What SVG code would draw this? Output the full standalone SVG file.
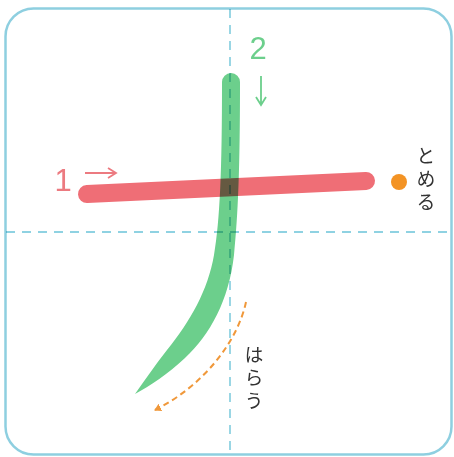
<svg xmlns="http://www.w3.org/2000/svg" width="454" height="457" viewBox="0 0 454 457">
<style>
.guide{stroke:#8fd2e2;stroke-width:1.8;stroke-dasharray:9 7;fill:none;mix-blend-mode:multiply}
.lbl{font-family:"Noto Sans CJK JP","Liberation Sans",sans-serif;font-size:19px;fill:#333;writing-mode:vertical-rl;text-orientation:upright;letter-spacing:4px}
.num{font-family:"Liberation Sans",sans-serif;font-size:31px;font-weight:300}
</style>
<defs>
<marker id="oarrow" markerWidth="8" markerHeight="8" refX="6" refY="4" orient="auto" markerUnits="userSpaceOnUse">
<path d="M0,0 L7,4 L0,8 Z" fill="#f0983a"/>
</marker>
</defs>
<rect x="0" y="0" width="454" height="457" fill="#fff"/>
<rect id="frame" x="5.5" y="8.5" width="446" height="446" rx="28" fill="#fff" stroke="#8ecfe0" stroke-width="2.5"/>
<g id="stroke1">
<line x1="87" y1="194" x2="366" y2="181" stroke="#ef6e76" stroke-width="18" stroke-linecap="round"/>
<text class="num" x="63" y="191" fill="#ec7a80" text-anchor="middle">1</text>
<path d="M85,173 H115 M108,168 L116,173 L108,178" stroke="#ec7a80" stroke-width="1.8" fill="none"/>
</g>
<g id="stroke2">
<path d="M222 82 A9 9 0 0 1 240 82 C240 170 238 215 234 255 C229 300 210 335 185 358 C168 374 150 386 135 394 C145 380 155 365 167 350 C190 322 208 290 214 255 C220 220 222 170 222 82 Z" fill="#6ccf8c" style="mix-blend-mode:multiply"/>
<text class="num" x="258" y="59" fill="#6ccf8c" text-anchor="middle">2</text>
<path d="M261,76 V105 M256,97 L261,105 L266,97" stroke="#6ccf8c" stroke-width="1.8" fill="none"/>
</g>
<g id="guides">
<line class="guide" x1="230" y1="9" x2="230" y2="454"/>
<line class="guide" x1="6" y1="232" x2="451" y2="232"/>
</g>
<g id="tome">
<circle cx="399" cy="182" r="8" fill="#f39324"/>
<text class="lbl" x="426" y="146">とめる</text>
</g>
<g id="harau">
<path d="M246 302 C238 340 205 385 155 410" stroke="#f0983a" stroke-width="2" stroke-dasharray="6 4" fill="none" marker-end="url(#oarrow)"/>
<text class="lbl" x="254" y="345">はらう</text>
</g>
</svg>
